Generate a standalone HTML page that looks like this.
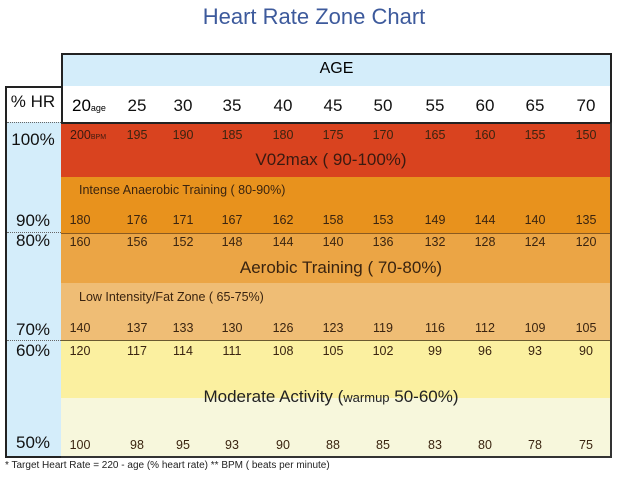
<!DOCTYPE html>
<html><head><style>
body{margin:0;width:628px;height:478px;background:#fff;position:relative;overflow:hidden;font-family:"Liberation Sans",sans-serif}
div{position:absolute}
.n{font-size:12.5px;color:#3a2410;width:50px;text-align:center}
.a{font-size:17px;color:#111;width:50px;text-align:center}
.p{font-size:17px;color:#111;left:5px;width:56px;text-align:center}
</style></head><body>
<div style="left:0;width:628px;top:4px;text-align:center;font-size:22px;color:#3d5a9c;">Heart Rate Zone Chart</div>
<div style="left:61px;top:53px;width:551px;height:33px;background:#d4edfa;border:2px solid #222;border-bottom:none;box-sizing:border-box"></div>
<div style="left:61px;top:86px;width:551px;border-top:1px dotted #666"></div>
<div style="left:61px;top:60px;width:551px;text-align:center;font-size:16px">AGE</div>
<div style="left:61px;top:86px;width:551px;height:36px;background:#fff;border-left:2px solid #222;border-right:2px solid #222;box-sizing:border-box"></div>
<div style="left:5px;top:86px;width:58px;height:372px;border:2px solid #222;box-sizing:border-box;background:#d4edfa"></div>
<div style="left:7px;top:88px;width:54px;height:34px;background:#fff"></div>
<div style="left:7px;top:122px;width:54px;border-top:1px dotted #666"></div>
<div style="left:7px;top:232px;width:54px;border-top:1px dotted #666"></div>
<div style="left:7px;top:340px;width:54px;border-top:1px dotted #666"></div>
<div style="left:61px;top:122px;width:551px;height:336px;border:2px solid #333;border-left:none;border-top:2px solid #222;box-sizing:border-box;overflow:hidden">
<div style="left:0;top:0;width:551px;height:53px;background:#d9431f"></div>
<div style="left:0;top:53px;width:551px;height:56px;background:#e8921d"></div>
<div style="left:0;top:109px;width:551px;height:50px;background:#eba545;border-top:1px solid #8a5a20"></div>
<div style="left:0;top:159px;width:551px;height:57px;background:#efbd75"></div>
<div style="left:0;top:216px;width:551px;height:58px;background:#fbf0a0;border-top:1px solid #6a5a30"></div>
<div style="left:0;top:274px;width:551px;height:62px;background:#f7f7dc"></div>
</div>
<div class="p" style="top:130px">100%</div>
<div class="p" style="top:92px">% HR</div>
<div class="p" style="top:211px">90%</div>
<div class="p" style="top:231px">80%</div>
<div class="p" style="top:320px">70%</div>
<div class="p" style="top:341px">60%</div>
<div class="p" style="top:433px">50%</div>
<div style="left:72px;top:96px;font-size:17px">20<span style="font-size:9px">age</span></div>
<div class="a" style="left:112px;top:96px">25</div><div class="a" style="left:158px;top:96px">30</div><div class="a" style="left:207px;top:96px">35</div><div class="a" style="left:258px;top:96px">40</div><div class="a" style="left:308px;top:96px">45</div><div class="a" style="left:358px;top:96px">50</div><div class="a" style="left:410px;top:96px">55</div><div class="a" style="left:460px;top:96px">60</div><div class="a" style="left:510px;top:96px">65</div><div class="a" style="left:561px;top:96px">70</div>
<div style="left:70px;top:128px;font-size:12.5px;color:#3a1a10">200<span style="font-size:7px">BPM</span></div>
<div id="rows"></div>
<div style="left:61px;top:150px;width:540px;text-align:center;font-size:17px;color:#3a1a10">V02max ( 90-100%)</div>
<div style="left:79px;top:183px;font-size:12.5px;color:#3a2410">Intense Anaerobic Training ( 80-90%)</div>
<div style="left:61px;top:258px;width:560px;text-align:center;font-size:17px;color:#3a2410">Aerobic Training ( 70-80%)</div>
<div style="left:79px;top:290px;font-size:12.5px;color:#3a2410">Low Intensity/Fat Zone ( 65-75%)</div>
<div style="left:61px;top:387px;width:540px;text-align:center;font-size:17px;color:#222">Moderate Activity (<span style="font-size:13px">warmup</span> 50-60%)</div>
<div style="left:5px;top:460px;font-size:10px;color:#222">* Target Heart Rate = 220 - age (% heart rate) ** BPM ( beats per minute)</div>
<script>
var xs=[80,137,183,232,283,333,383,435,485,535,586];
var rows=[[128,[null,195,190,185,180,175,170,165,160,155,150]],
[213,[180,176,171,167,162,158,153,149,144,140,135]],
[235,[160,156,152,148,144,140,136,132,128,124,120]],
[321,[140,137,133,130,126,123,119,116,112,109,105]],
[344,[120,117,114,111,108,105,102,99,96,93,90]],
[438,[100,98,95,93,90,88,85,83,80,78,75]]];
var h='';
rows.forEach(function(r){r[1].forEach(function(v,i){if(v!==null)h+='<div class="n" style="left:'+(xs[i]-25)+'px;top:'+r[0]+'px">'+v+'</div>';});});
document.getElementById('rows').outerHTML=h;
</script>
</body></html>
